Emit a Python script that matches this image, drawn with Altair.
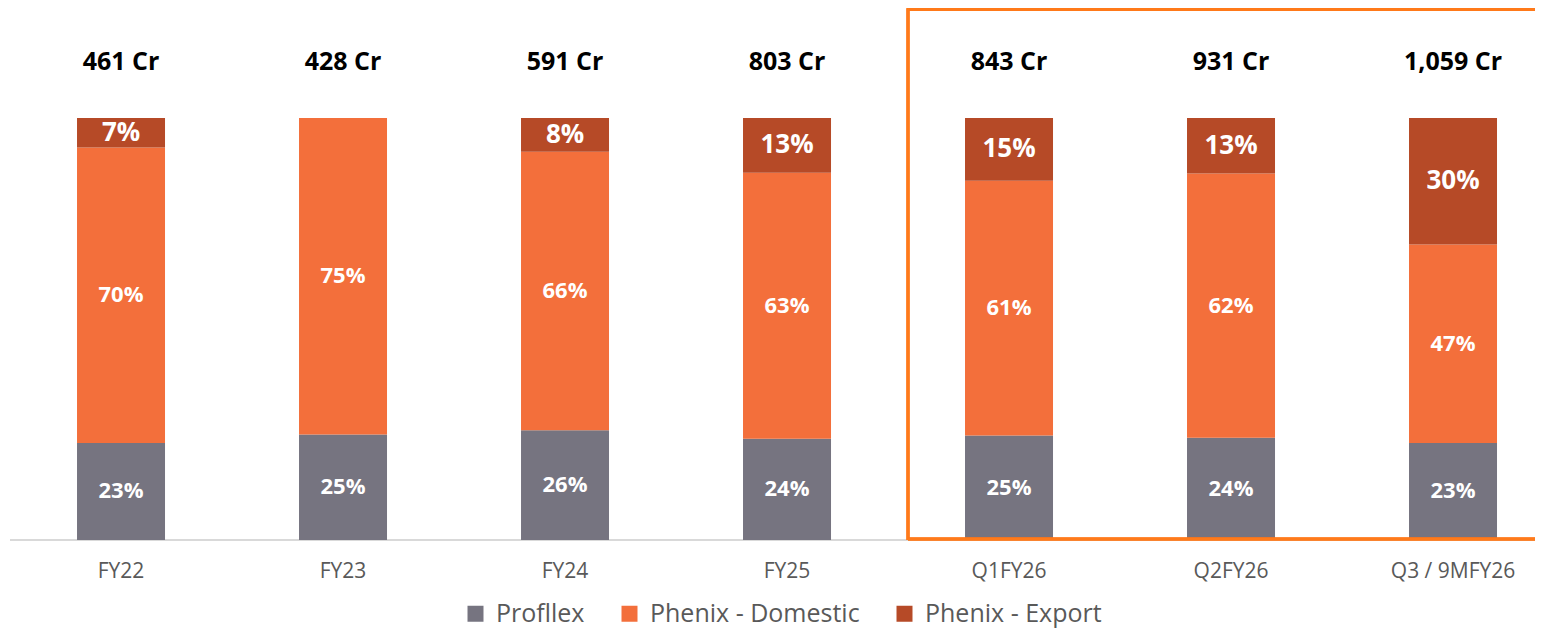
import altair as alt
import pandas as pd

periods = ["FY22", "FY23", "FY24", "FY25", "Q1FY26", "Q2FY26", "Q3 / 9MFY26"]
totals = ["461 Cr", "428 Cr", "591 Cr", "803 Cr", "843 Cr", "931 Cr", "1,059 Cr"]
series = ["Profllex", "Phenix - Domestic", "Phenix - Export"]
profllex = [23, 25, 26, 24, 25, 24, 23]
domestic = [70, 75, 66, 63, 61, 62, 47]
export = [7, 0, 8, 13, 15, 13, 30]
colors = ["#767480", "#F36F3B", "#B64A27"]

rows = []
for i, p in enumerate(periods):
    for k, (s, vals) in enumerate(zip(series, [profllex, domestic, export])):
        rows.append({"period": p, "series": s, "value": vals[i], "order": k})
df = pd.DataFrame(rows)
tot_df = pd.DataFrame({"period": periods, "total": totals})

W = 1527
H = 532
FONT = "Open Sans"
BOX = "#FF7A1A"

xscale = alt.Scale(domain=periods, paddingInner=0.6036, paddingOuter=0.241, align=0.645)
yscale = alt.Scale(domain=[0, 1.26066], nice=False, zero=False)
xaxis = alt.Axis(title=None, domain=False, ticks=False, labelAngle=0,
                 labelFont=FONT, labelFontSize=21, labelColor="#595959",
                 labelPadding=20)


def X():
    return alt.X("period:N", scale=xscale, sort=periods, axis=xaxis)


base = alt.Chart(df).transform_stack(
    stack="value", groupby=["period"], as_=["v0", "v1"], offset="normalize",
    sort=[alt.SortField("order", order="ascending")]
).transform_calculate(mid="(datum.v0 + datum.v1) / 2", lbl="datum.value + '%'")

bars = base.mark_bar().encode(
    x=X(),
    y=alt.Y("v0:Q", scale=yscale, axis=None),
    y2="v1:Q",
    color=alt.Color("series:N", scale=alt.Scale(domain=series, range=colors),
                    legend=alt.Legend(title=None, orient="none", legendX=455, legendY=593,
                                      direction="horizontal", symbolType="square",
                                      symbolSize=256, symbolStrokeWidth=0,
                                      labelFont=FONT, labelFontSize=25,
                                      labelColor="#595959", labelOffset=8,
                                      labelLimit=600, columnPadding=32)),
)

pct = base.transform_filter("datum.value > 0").mark_text(
    font=FONT, fontWeight="bold", color="white", baseline="middle", align="center"
).encode(
    x=X(),
    y=alt.Y("mid:Q", scale=yscale, axis=None),
    text="lbl:N",
    size=alt.condition("datum.series == 'Phenix - Export'", alt.value(26), alt.value(22)),
)

tot = alt.Chart(tot_df).transform_calculate(ypos="1.1327").mark_text(
    font=FONT, fontWeight="bold", color="black", fontSize=25, baseline="middle", align="center"
).encode(
    x=X(),
    y=alt.Y("ypos:Q", scale=yscale, axis=None),
    text="total:N",
)

baseline = alt.Chart(tot_df).transform_calculate(zero="0").mark_rule(
    color="#d9d9d9", strokeWidth=1.5
).encode(
    x=alt.value(2), x2=alt.value(W), y=alt.Y("zero:Q", scale=yscale, axis=None)
)

box_top = alt.Chart(tot_df).mark_rule(color=BOX, strokeWidth=2.5).encode(
    x=alt.value(900), x2=alt.value(W), y=alt.value(1.5)
)
box_left = alt.Chart(tot_df).mark_rule(color=BOX, strokeWidth=2.5).encode(
    x=alt.value(900), y=alt.value(0.25), y2=alt.value(532)
)
box_bottom = alt.Chart(tot_df).mark_rule(color=BOX, strokeWidth=2.5).encode(
    x=alt.value(900), x2=alt.value(W), y=alt.value(531)
)

chart = alt.layer(baseline, bars, pct, tot, box_top, box_left, box_bottom).properties(
    width=W, height=H,
    padding={"left": 0, "top": 0, "right": 0, "bottom": 91},
    autosize=alt.AutoSizeParams(type="none"),
).configure_view(stroke=None)

chart.save("out.html", embed_options={"renderer": "svg", "actions": False})
